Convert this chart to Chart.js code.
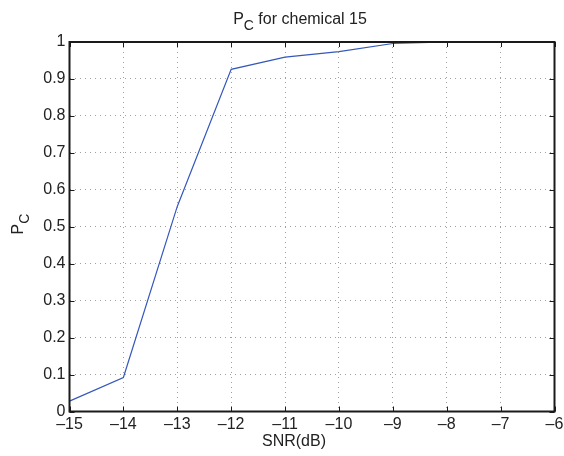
<!DOCTYPE html>
<html>
<head>
<meta charset="utf-8">
<script src="https://cdn.jsdelivr.net/npm/chart.js@4.4.0/dist/chart.umd.min.js"></script>
<style>
  html, body { margin: 0; padding: 0; background: #fff; }
  #wrap { width: 564px; height: 456px; }
</style>
</head>
<body>
<div id="wrap"><canvas id="pcChart" width="564" height="456"></canvas></div>
<script>
// SNR sweep and probability of correct classification
const snrDb = [-15, -14, -13, -12, -11, -10, -9, -8, -7, -6];
const pc = [0.028, 0.092, 0.555, 0.926, 0.959, 0.974, 0.996, 1, 1, 1];
const xTicks = [-15, -14, -13, -12, -11, -10, -9, -8, -7, -6];
const yTicks = [0, 0.1, 0.2, 0.3, 0.4, 0.5, 0.6, 0.7, 0.8, 0.9, 1];

const FONT = "'Liberation Sans', Arial, Helvetica, sans-serif";
const FS = 16;

// text with a subscript part, e.g. P_C
function drawSub(ctx, x, y, main, sub, rest, size) {
  ctx.font = size + "px " + FONT;
  const w1 = ctx.measureText(main).width;
  ctx.font = (size - 2) + "px " + FONT;
  const w2 = ctx.measureText(sub).width;
  ctx.font = size + "px " + FONT;
  const w3 = ctx.measureText(rest).width;
  let sx = x - (w1 + w2 + w3) / 2;
  ctx.textAlign = "left";
  ctx.textBaseline = "alphabetic";
  ctx.fillText(main, sx, y);
  ctx.font = (size - 2) + "px " + FONT;
  ctx.fillText(sub, sx + w1, y + 6);
  ctx.font = size + "px " + FONT;
  ctx.fillText(rest, sx + w1 + w2, y);
}

// box, inward tick marks and labels, drawn over the plot like MATLAB does
const matlabFrame = {
  id: "matlabFrame",
  afterDraw(chart) {
    const { ctx, chartArea: a, scales } = chart;
    ctx.save();
    ctx.strokeStyle = "#1a1a1a";
    ctx.lineWidth = 1;
    ctx.beginPath();
    xTicks.forEach(v => {
      const px = Math.round(scales.x.getPixelForValue(v)) + 0.5;
      ctx.moveTo(px, a.bottom); ctx.lineTo(px, a.bottom - 5);
      ctx.moveTo(px, a.top); ctx.lineTo(px, a.top + 5);
    });
    yTicks.forEach(v => {
      const py = Math.round(scales.y.getPixelForValue(v)) + 0.5;
      ctx.moveTo(a.left, py); ctx.lineTo(a.left + 5, py);
      ctx.moveTo(a.right, py); ctx.lineTo(a.right - 5, py);
    });
    ctx.stroke();
    ctx.lineWidth = 2;
    ctx.strokeRect(a.left, a.top, a.right - a.left, a.bottom - a.top);

    ctx.fillStyle = "#222";
    drawSub(ctx, 300, 24, "P", "C", " for chemical 15", FS);
    ctx.font = FS + "px " + FONT;
    ctx.textAlign = "center";
    ctx.textBaseline = "middle";
    ctx.fillText("SNR(dB)", 294, 442);

    ctx.translate(23, 224);
    ctx.rotate(-Math.PI / 2);
    drawSub(ctx, 0, 0, "P", "C", "", FS);
    ctx.restore();
  }
};

const fmt = v => {
  const r = Math.round(v * 10) / 10;
  return r < 0 ? "\u2013" + Math.abs(r) : String(r);
};

new Chart(document.getElementById("pcChart"), {
  type: "line",
  data: {
    datasets: [{
      data: snrDb.map((x, i) => ({ x: x, y: pc[i] })),
      borderColor: "#3558bb",
      borderWidth: 1.2,
      pointRadius: 0,
      tension: 0,
      fill: false
    }]
  },
  options: {
    responsive: false,
    animation: false,
    layout: { padding: { top: 42, right: 9.5, left: 0, bottom: 0 } },
    plugins: { legend: { display: false }, tooltip: { enabled: false } },
    scales: {
      x: {
        type: "linear",
        min: -15,
        max: -6,
        afterFit(scale) {
          scale.height = 44.5;
          scale.paddingLeft = 0;
          scale.paddingRight = 0;
        },
        afterBuildTicks(scale) { scale.ticks = xTicks.map(v => ({ value: v })); },
        ticks: { callback: fmt, color: "#222", font: { family: FONT, size: FS }, padding: 3, maxRotation: 0 },
        grid: { color: "#a0a0a0", lineWidth: 1, drawTicks: false },
        border: { display: false, dash: [1, 4] }
      },
      y: {
        min: 0,
        max: 1,
        afterFit(scale) {
          scale.width = 69.5;
          scale.paddingTop = 0;
          scale.paddingBottom = 0;
        },
        afterBuildTicks(scale) { scale.ticks = yTicks.map(v => ({ value: v })); },
        ticks: { callback: fmt, color: "#222", font: { family: FONT, size: FS }, padding: 4 },
        grid: { color: "#a0a0a0", lineWidth: 1, drawTicks: false },
        border: { display: false, dash: [1, 4] }
      }
    }
  },
  plugins: [matlabFrame]
});
</script>
</body>
</html>
